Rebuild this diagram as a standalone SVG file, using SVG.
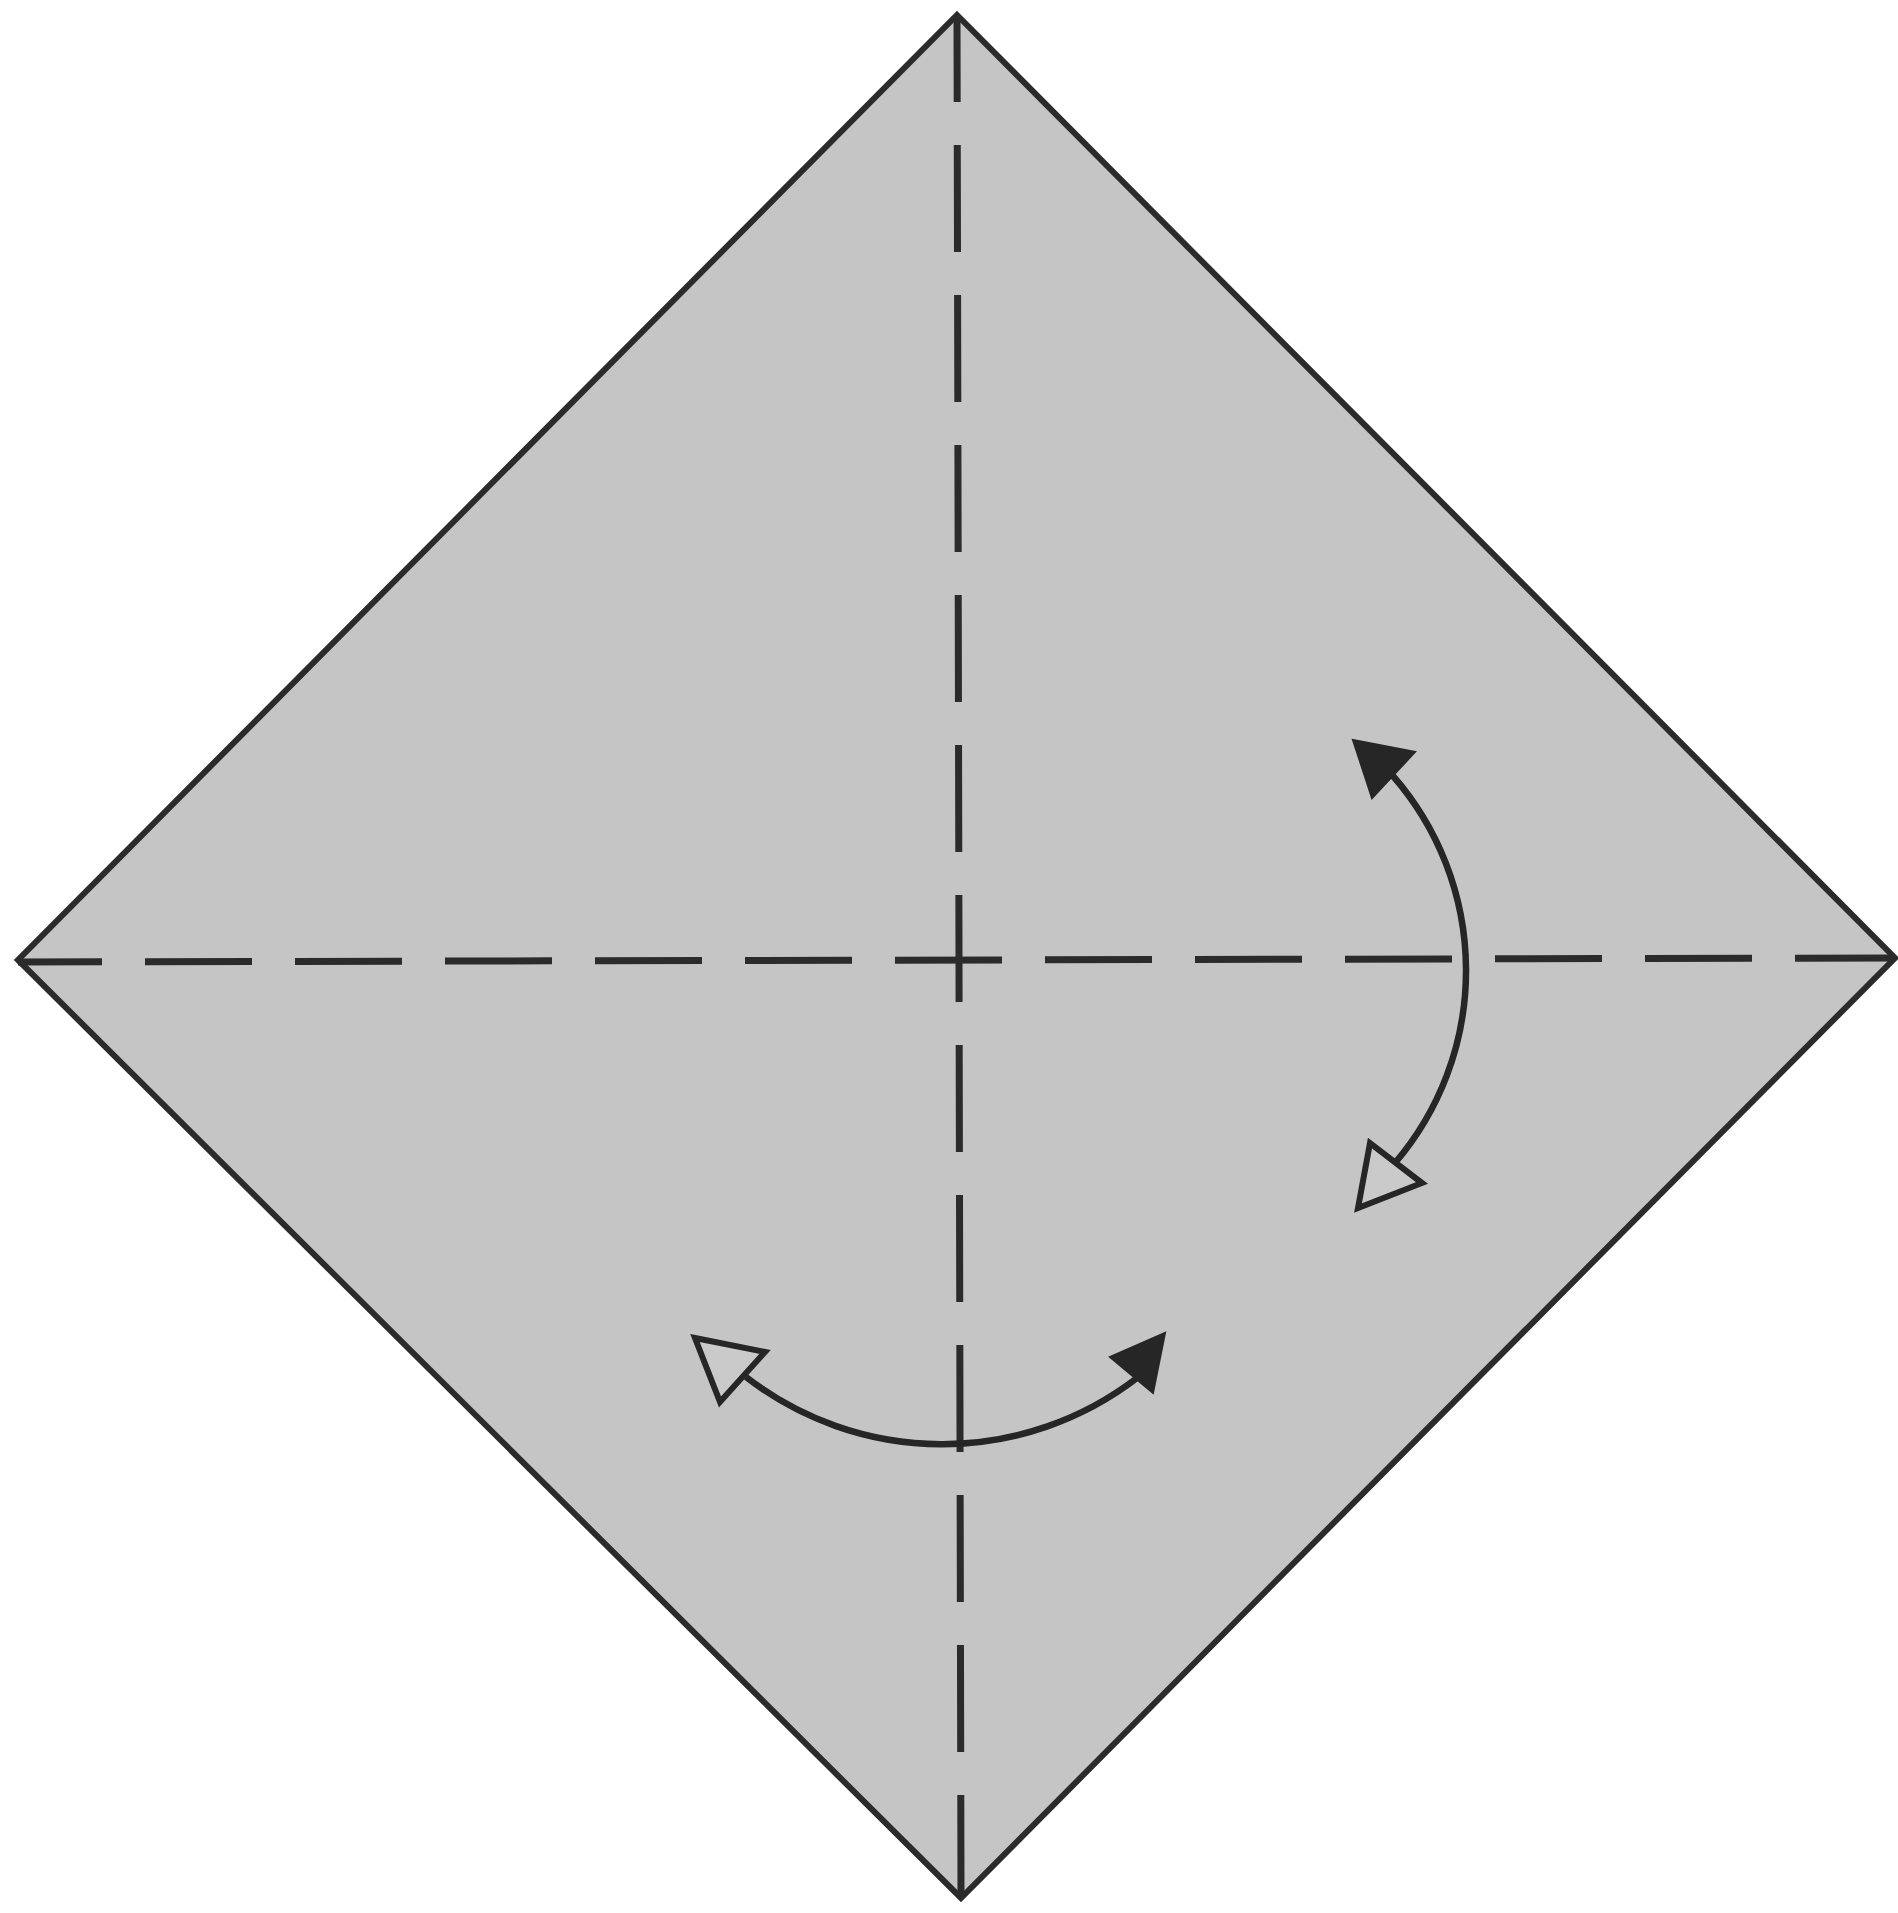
<svg xmlns="http://www.w3.org/2000/svg" width="1898" height="1913" viewBox="0 0 1898 1913">
<style>
.paper{fill:#c5c5c5;stroke:#2b2b2b;stroke-width:6;stroke-linejoin:miter}
.valley{fill:none;stroke:#2b2b2b;stroke-width:7;stroke-dasharray:107 43;stroke-dashoffset:23;stroke-linecap:butt}
.arc{fill:none;stroke:#262626;stroke-width:6.5}
.head-fill{fill:#262626;stroke:#262626;stroke-width:2;stroke-linejoin:miter}
.head-open{fill:#cacaca;stroke:#262626;stroke-width:6;stroke-linejoin:miter}
</style>
<rect width="1898" height="1913" fill="#ffffff"/>
<g id="paper">
<polygon class="paper" points="957,15 1895,958 961,1898 18,960"/>
</g>
<g id="creases">
<line class="valley" x1="957" y1="18" x2="961" y2="1896"/>
<line class="valley" x1="18" y1="962" x2="1895" y2="958"/>
</g>
<g id="connectors">
<path class="arc" d="M 1393 776 A 296 296 0 0 1 1395 1163"/>
<polygon class="head-fill" points="1353,740 1415,752 1372,798"/>
<polygon class="head-open" points="1358,1208 1370,1143 1422,1183"/>
<path class="arc" d="M 746 1377 A 320 320 0 0 0 1137 1378"/>
<polygon class="head-open" points="695,1338 765,1352 720,1402"/>
<polygon class="head-fill" points="1165,1333 1110,1357 1153,1393"/>
</g>
</svg>
